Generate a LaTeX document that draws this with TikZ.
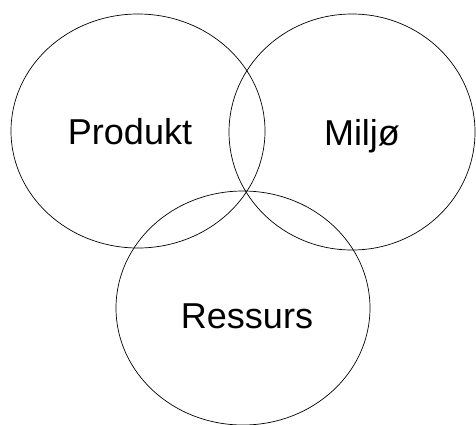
\documentclass[tikz,border=0pt]{standalone}
\usepackage{fontspec}
\setmainfont{Liberation Sans}
\begin{document}
\begin{tikzpicture}[x=1pt,y=-1pt,
  ring/.style={draw=black,line width=0.7pt},
  lbl/.style={font=\fontsize{36}{40}\selectfont,anchor=base,inner sep=0pt}]
\useasboundingbox (0,0) rectangle (476,424);
\draw[ring] (138,131) ellipse [x radius=127,y radius=117];
\draw[ring] (352,132) ellipse [x radius=123,y radius=118];
\draw[ring] (243,308) ellipse [x radius=127,y radius=117];
\node[lbl] (p) at (130,144) {Produkt};
\node[lbl] (m) at (362,145) {Miljø};
\node[lbl] (r) at (247,328) {Ressurs};
\end{tikzpicture}
\end{document}
